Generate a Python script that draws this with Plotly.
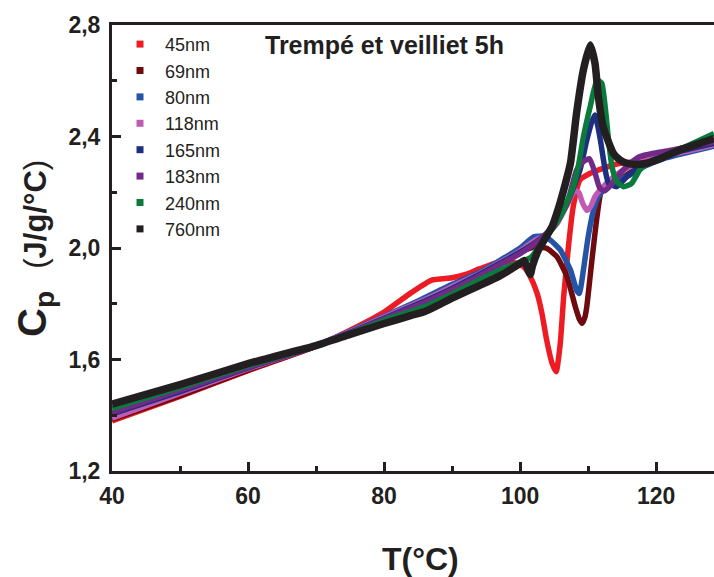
import plotly.graph_objects as go

# ---- data ----
names = ["45nm", "69nm", "80nm", "118nm", "165nm", "183nm", "240nm", "760nm"]
colors = ["#ED1C24", "#6E0B0E", "#2554A6", "#C15AB3", "#1F2F80", "#722A88", "#0B7B3D", "#231F20"]

t_45 = [40, 50, 60, 70, 75, 80, 84, 87, 90, 92, 94, 97, 99.5, 100.5, 101.5, 102.5, 103.2, 103.9, 104.7, 105.3,
        105.9, 106.4, 107.1, 107.8, 108.8, 110.3, 112.2, 114.7, 117, 120, 124, 128.5]
cp_45 = [1.38, 1.468, 1.56, 1.648, 1.705, 1.77, 1.84, 1.885, 1.893, 1.905, 1.925, 1.95, 1.945, 1.933, 1.897, 1.837,
         1.766, 1.67, 1.586, 1.556, 1.658, 1.825, 2.005, 2.148, 2.244, 2.268, 2.286, 2.304, 2.31, 2.33, 2.36, 2.39]

t_69 = [40, 50, 60, 70, 80, 86, 90, 94, 97, 100, 101.5, 102.5, 103.9, 105.4, 106.9, 108.1, 108.7, 109.1, 109.5,
        109.8, 110.5, 111.3, 112.0, 113.7, 115, 117, 120, 124, 128.5]
cp_69 = [1.385, 1.47, 1.562, 1.648, 1.752, 1.812, 1.86, 1.905, 1.945, 1.985, 2.0, 2.005, 1.999, 1.969, 1.897, 1.79,
         1.745, 1.73, 1.75, 1.79, 1.945, 2.112, 2.208, 2.232, 2.25, 2.285, 2.315, 2.35, 2.38]

t_80 = [40, 50, 60, 70, 80, 85, 90, 94, 97, 100, 102, 103.5, 104.4, 105.9, 107.4, 108.3, 108.7, 109.3, 110.0,
        110.8, 111.5, 112.7, 114.5, 116, 118, 121, 125, 128.5]
cp_80 = [1.395, 1.48, 1.568, 1.65, 1.755, 1.81, 1.87, 1.912, 1.955, 2.0, 2.04, 2.042, 2.029, 1.993, 1.921, 1.849,
         1.837, 1.921, 2.04, 2.136, 2.184, 2.22, 2.245, 2.26, 2.29, 2.32, 2.345, 2.365]

t_118 = [40, 50, 60, 70, 80, 86, 90, 94, 97, 100, 102, 104, 105.5, 106.8, 108.0, 108.6, 109.2, 109.8, 110.4,
         111, 112.2, 113.5, 115.2, 118.6, 122, 125, 128.5]
cp_118 = [1.39, 1.478, 1.567, 1.648, 1.752, 1.815, 1.862, 1.908, 1.948, 1.99, 2.025, 2.05, 2.09, 2.15, 2.205, 2.2,
          2.16, 2.135, 2.15, 2.184, 2.22, 2.25, 2.28, 2.316, 2.335, 2.35, 2.37]

t_165 = [40, 50, 60, 70, 80, 86, 90, 94, 97, 100, 102.9, 104.9, 106.9, 108.8, 109.8, 110.5, 111.0, 111.4, 111.8,
         112.5, 113.0, 114.2, 115.7, 117.5, 120, 124, 128.5]
cp_165 = [1.405, 1.485, 1.57, 1.648, 1.748, 1.81, 1.855, 1.905, 1.945, 1.985, 2.032, 2.078, 2.16, 2.28, 2.387,
          2.45, 2.477, 2.44, 2.387, 2.28, 2.232, 2.22, 2.256, 2.29, 2.32, 2.35, 2.375]

t_183 = [40, 50, 60, 70, 80, 86, 90, 94, 97, 100, 102.9, 104.9, 106.9, 108.3, 109.3, 110.2, 111.0, 111.7, 112.4,
         113.3, 114.7, 116, 117.6, 119.6, 122, 125, 128.5]
cp_183 = [1.41, 1.49, 1.572, 1.648, 1.745, 1.805, 1.85, 1.9, 1.94, 1.98, 2.029, 2.076, 2.16, 2.28, 2.31, 2.32,
          2.27, 2.215, 2.205, 2.225, 2.268, 2.30, 2.328, 2.34, 2.35, 2.365, 2.38]

t_240 = [40, 50, 60, 70, 80, 86, 90, 94, 97, 100, 101.5, 103.9, 105.9, 107.8, 108.6, 109.3, 110.3, 111.3, 112.0,
         112.5, 113.0, 113.5, 114.2, 115.2, 116.4, 117.6, 119, 121.1, 124, 128.5]
cp_240 = [1.425, 1.50, 1.578, 1.648, 1.74, 1.79, 1.835, 1.885, 1.92, 1.95, 1.965, 2.04, 2.112, 2.22, 2.30, 2.399,
          2.507, 2.603, 2.591, 2.507, 2.387, 2.292, 2.238, 2.22, 2.232, 2.28, 2.305, 2.328, 2.36, 2.411]

t_760 = [40, 50, 60, 65, 70, 75, 80, 84, 86, 90, 94, 97, 100, 100.6, 101.2, 101.5, 101.8, 102.7, 103.7, 104.7,
         105.6, 106.4, 107.4, 108.3, 109.3, 110.3, 111.0, 111.5, 112.2, 112.7, 113.7, 114.7, 115.7, 117, 118.6,
         121, 123.5, 126, 128.5]
cp_760 = [1.44, 1.51, 1.585, 1.618, 1.65, 1.69, 1.729, 1.758, 1.772, 1.82, 1.865, 1.9, 1.945, 1.955, 1.92, 1.905,
          1.935, 1.993, 2.035, 2.077, 2.14, 2.208, 2.305, 2.484, 2.639, 2.728, 2.663, 2.543, 2.435, 2.399, 2.34,
          2.315, 2.304, 2.300, 2.304, 2.325, 2.352, 2.372, 2.393]

xs = [t_45, t_69, t_80, t_118, t_165, t_183, t_240, t_760]
ys = [cp_45, cp_69, cp_80, cp_118, cp_165, cp_183, cp_240, cp_760]

x_ticks = [40, 60, 80, 100, 120]
x_ticktext = ["40", "60", "80", "100", "120"]
x_minor = [50, 70, 90, 110]
y_ticks = [1.2, 1.6, 2.0, 2.4, 2.8]
y_ticktext = ["1,2", "1,6", "2,0", "2,4", "2,8"]
y_minor = [1.4, 1.8, 2.2, 2.6]

title_text = "Trempé et veilliet 5h"

FONT = "Liberation Sans, Arial, sans-serif"
INK = "#231F20"

fig = go.Figure()
for i, (n, c) in enumerate(zip(names, colors)):
    fig.add_trace(go.Scatter(
        x=xs[i], y=ys[i], mode="lines", showlegend=False,
        line=dict(color=c, width=7.5 if n == "760nm" else 5.5, shape="spline", smoothing=0.5),
        hoverinfo="skip"))
for n, c in zip(names, colors):
    fig.add_trace(go.Scatter(
        x=[None], y=[None], mode="markers", name=n,
        marker=dict(symbol="square", size=7, color=c)))

axis_common = dict(
    showline=True, linecolor=INK, linewidth=3, ticks="inside", ticklen=9, tickwidth=2.5,
    tickcolor=INK, showgrid=False, zeroline=False, automargin=False,
    tickfont=dict(family=FONT, size=23, color=INK, weight="bold"),
)
fig.update_xaxes(range=[40, 128.5], tickvals=x_ticks, ticktext=x_ticktext, mirror=True,
                 minor=dict(tickvals=x_minor, ticks="inside", ticklen=5, tickwidth=2.5, tickcolor=INK),
                 ticklabelstandoff=2, **axis_common)
fig.update_yaxes(range=[1.2, 2.8], tickvals=y_ticks, ticktext=y_ticktext,
                 minor=dict(tickvals=y_minor, ticks="inside", ticklen=5, tickwidth=2.5, tickcolor=INK),
                 ticklabelstandoff=4, **axis_common)

fig.update_layout(
    width=714, height=577,
    margin=dict(l=112, r=0, t=25, b=106),
    paper_bgcolor="white", plot_bgcolor="white",
    font=dict(family=FONT, color=INK),
    legend=dict(x=0.005, y=0.998, xanchor="left", yanchor="top", bgcolor="rgba(0,0,0,0)",
                font=dict(family=FONT, size=18, color=INK), tracegroupgap=0, itemwidth=40),
    annotations=[
        dict(text="<b>" + title_text + "</b>", xref="paper", yref="paper", x=0.251, y=0.955,
             xanchor="left", yanchor="middle", showarrow=False,
             font=dict(family=FONT, size=25, color=INK)),
        dict(text="<b>T(°C)</b>", xref="paper", yref="paper", x=0.512, y=-0.197,
             xanchor="center", yanchor="middle", showarrow=False,
             font=dict(family=FONT, size=32, color=INK)),
        dict(text="<b>C<sub>p</sub></b>  <span style='font-size:31px'>(<b>J/g/°C</b>)</span>",
             xref="paper", yref="paper", x=-0.128, y=0.5, textangle=-90,
             xanchor="center", yanchor="middle", showarrow=False,
             font=dict(family=FONT, size=40, color=INK)),
    ],
)

fig.write_html("out.html", config={"displayModeBar": False},
               post_script="document.body.style.margin='0';document.body.style.overflow='hidden';")
